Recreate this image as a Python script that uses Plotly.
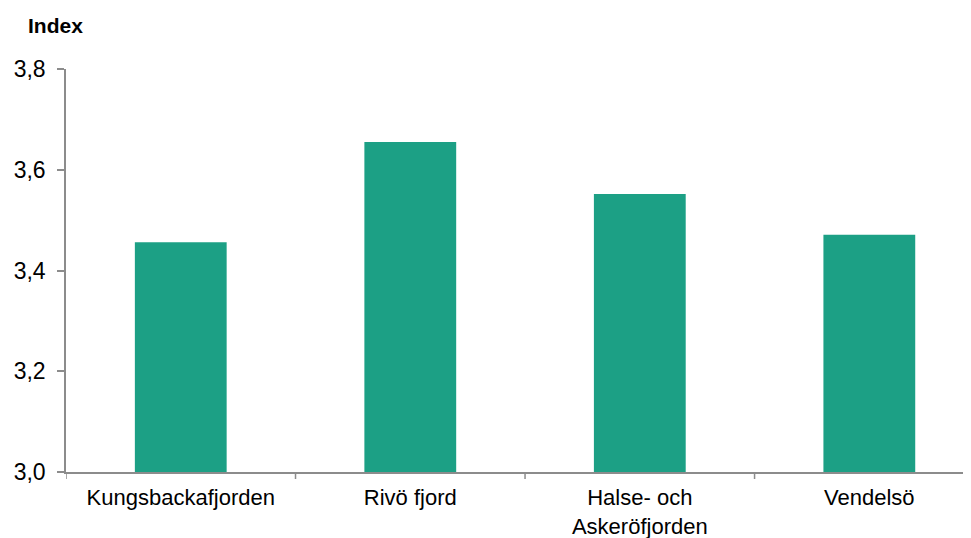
import plotly.graph_objects as go

categories = ["Kungsbackafjorden", "Rivö fjord", "Halse- och<br>Askeröfjorden", "Vendelsö"]
values = [3.456, 3.655, 3.552, 3.471]
y_ticks = [3.0, 3.2, 3.4, 3.6, 3.8]
y_title = "Index"

# page body has an 8px offset; compensate so the plot lands where the reference has it
W, H = 963, 530
L, R, T, B = 58, 0, 61, 66
PH = H - T - B
axis_col = "#8c8c8c"
font_fam = "Liberation Sans, Arial, sans-serif"
slot = (W - L - R) / 3.943  # pixel width of one category

fig = go.Figure(go.Bar(
    x=list(range(len(categories))),
    y=values,
    marker=dict(color="#1ca085", line=dict(width=0)),
    width=0.4,
))

fig.update_layout(
    width=W, height=H,
    margin=dict(l=L, r=R, t=T, b=B, pad=0),
    paper_bgcolor="white", plot_bgcolor="white",
    separators=", ",
    showlegend=False,
    font=dict(family=font_fam, color="#000000", size=22),
    xaxis=dict(
        range=[-0.5, -0.5 + (W - L - R) / slot],
        tickmode="array",
        tickvals=list(range(len(categories))),
        ticktext=categories,
        showline=True, linecolor=axis_col, linewidth=1.5,
        ticks="", showgrid=False, zeroline=False,
        tickfont=dict(size=22, family=font_fam),
        ticklabelstandoff=5,
        automargin=False,
    ),
    yaxis=dict(
        range=[3.0, 3.8],
        tickmode="array",
        tickvals=y_ticks,
        ticktext=[f"{v:.1f}".replace(".", ",") for v in y_ticks],
        showline=True, linecolor=axis_col, linewidth=1.5,
        ticks="outside", ticklen=7, tickcolor=axis_col, tickwidth=1.5,
        showgrid=False, zeroline=False,
        ticklabelstandoff=7,
        tickfont=dict(size=23, family=font_fam),
        automargin=False,
    ),
    annotations=[dict(
        text="<b>" + y_title + "</b>",
        xref="paper", yref="paper",
        x=-40 / (W - L - R), y=1 + (T - 31) / PH,
        xanchor="left", yanchor="bottom", showarrow=False,
        font=dict(size=21, family=font_fam, color="#000000"),
    )],
)

# category boundary tick marks on x axis
for b in [-0.5, 0.5, 1.5, 2.5]:
    fig.add_shape(type="line", xref="x", yref="paper",
                  x0=b, x1=b, y0=0, y1=-7 / PH,
                  line=dict(color=axis_col, width=1.5))

fig.write_html("out.html")
